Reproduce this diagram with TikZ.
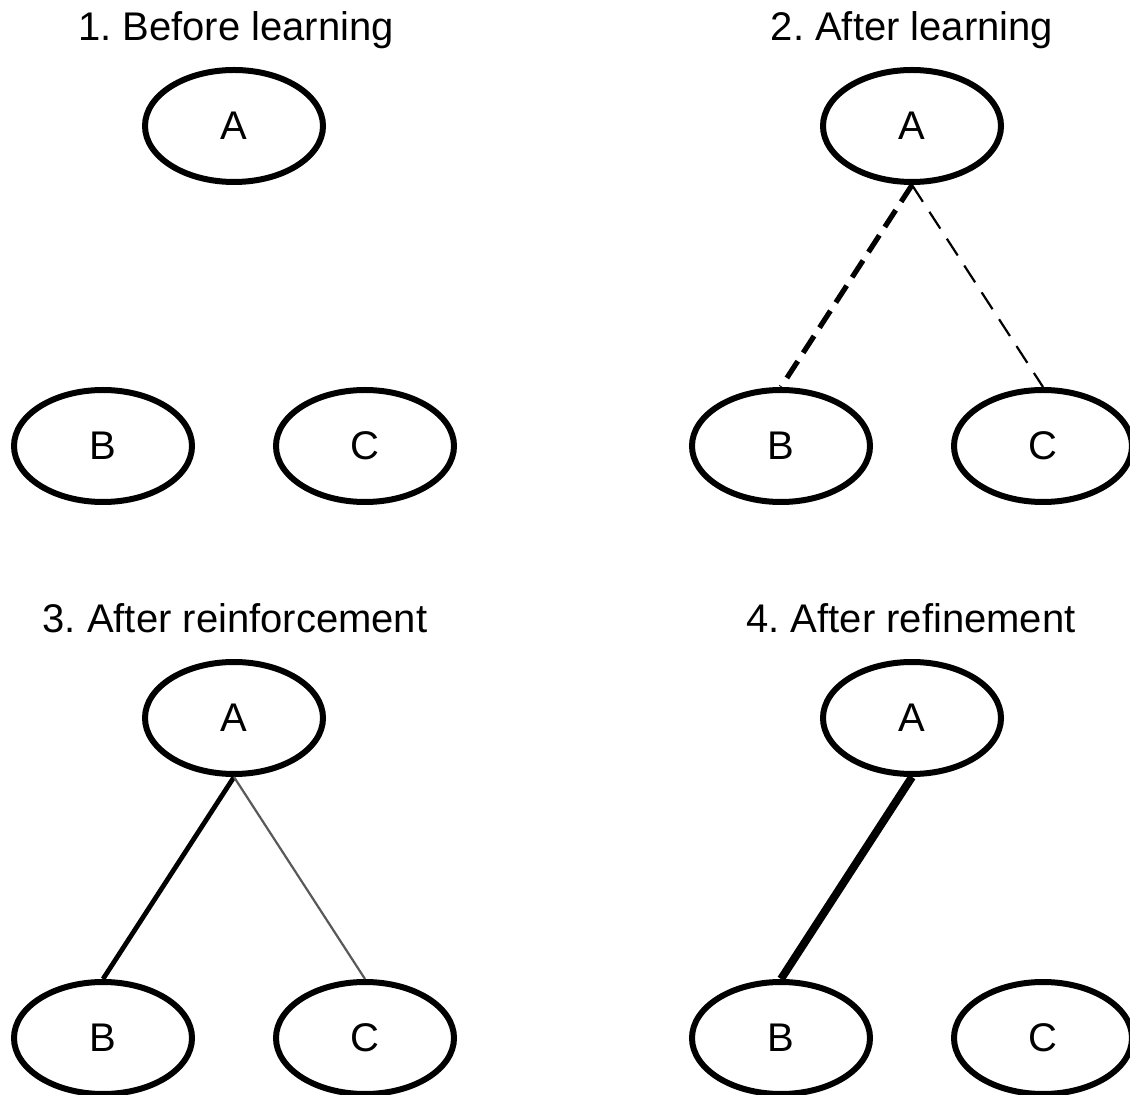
\documentclass[tikz,border=0pt]{standalone}
\usepackage{fontspec}
\setmainfont{Liberation Sans}
\usetikzlibrary{shapes.geometric}
\frenchspacing

\begin{document}
\begin{tikzpicture}[x=0.5pt,y=-0.5pt,
% Node style
    concept/.style={ellipse,draw,line width=3pt,minimum width=89pt,
		minimum height=56pt,inner sep=0pt,font={\fontsize{20pt}{24pt}\selectfont}},
% Title style
    heading/.style={anchor=base,inner sep=0pt,font={\fontsize{20pt}{24pt}\selectfont}},
% Link styles
    weak/.style={line width=1.1pt,dash pattern=on 10pt off 6pt},
    tentative/.style={line width=2.6pt,dash pattern=on 10pt off 5pt},
    medium/.style={line width=2.4pt},
    faint/.style={line width=1.1pt,black!65},
    strong/.style={line width=4pt}
    ]
  \useasboundingbox (0,0) rectangle (1130,1095);

  % four panels, same layout
  \foreach \p/\dx/\dy in {1/0/0, 2/678/0, 3/0/592, 4/678/592} {
    \node (A\p) [concept] at (234+\dx,126+\dy) {A};
    \node (B\p) [concept] at (103+\dx,446+\dy) {B};
    \node (C\p) [concept] at (365+\dx,446+\dy) {C};
  }

  \node (t1) [heading] at (236,41) {1. Before learning};
  \node (t2) [heading] at (912,41) {2. After learning};
  \node (t3) [heading] at (235,633) {3. After reinforcement};
  \node (t4) [heading] at (911,633) {4. After refinement};

  \draw[tentative] (A2.south) -- (B2.north);
  \draw[weak] (A2.south) -- (C2.north);

  \draw[medium] (A3.south) -- (B3.north);
  \draw[faint] (A3.south) -- (C3.north);

  \draw[strong] (A4.south) -- (B4.north);

\end{tikzpicture}
\end{document}
